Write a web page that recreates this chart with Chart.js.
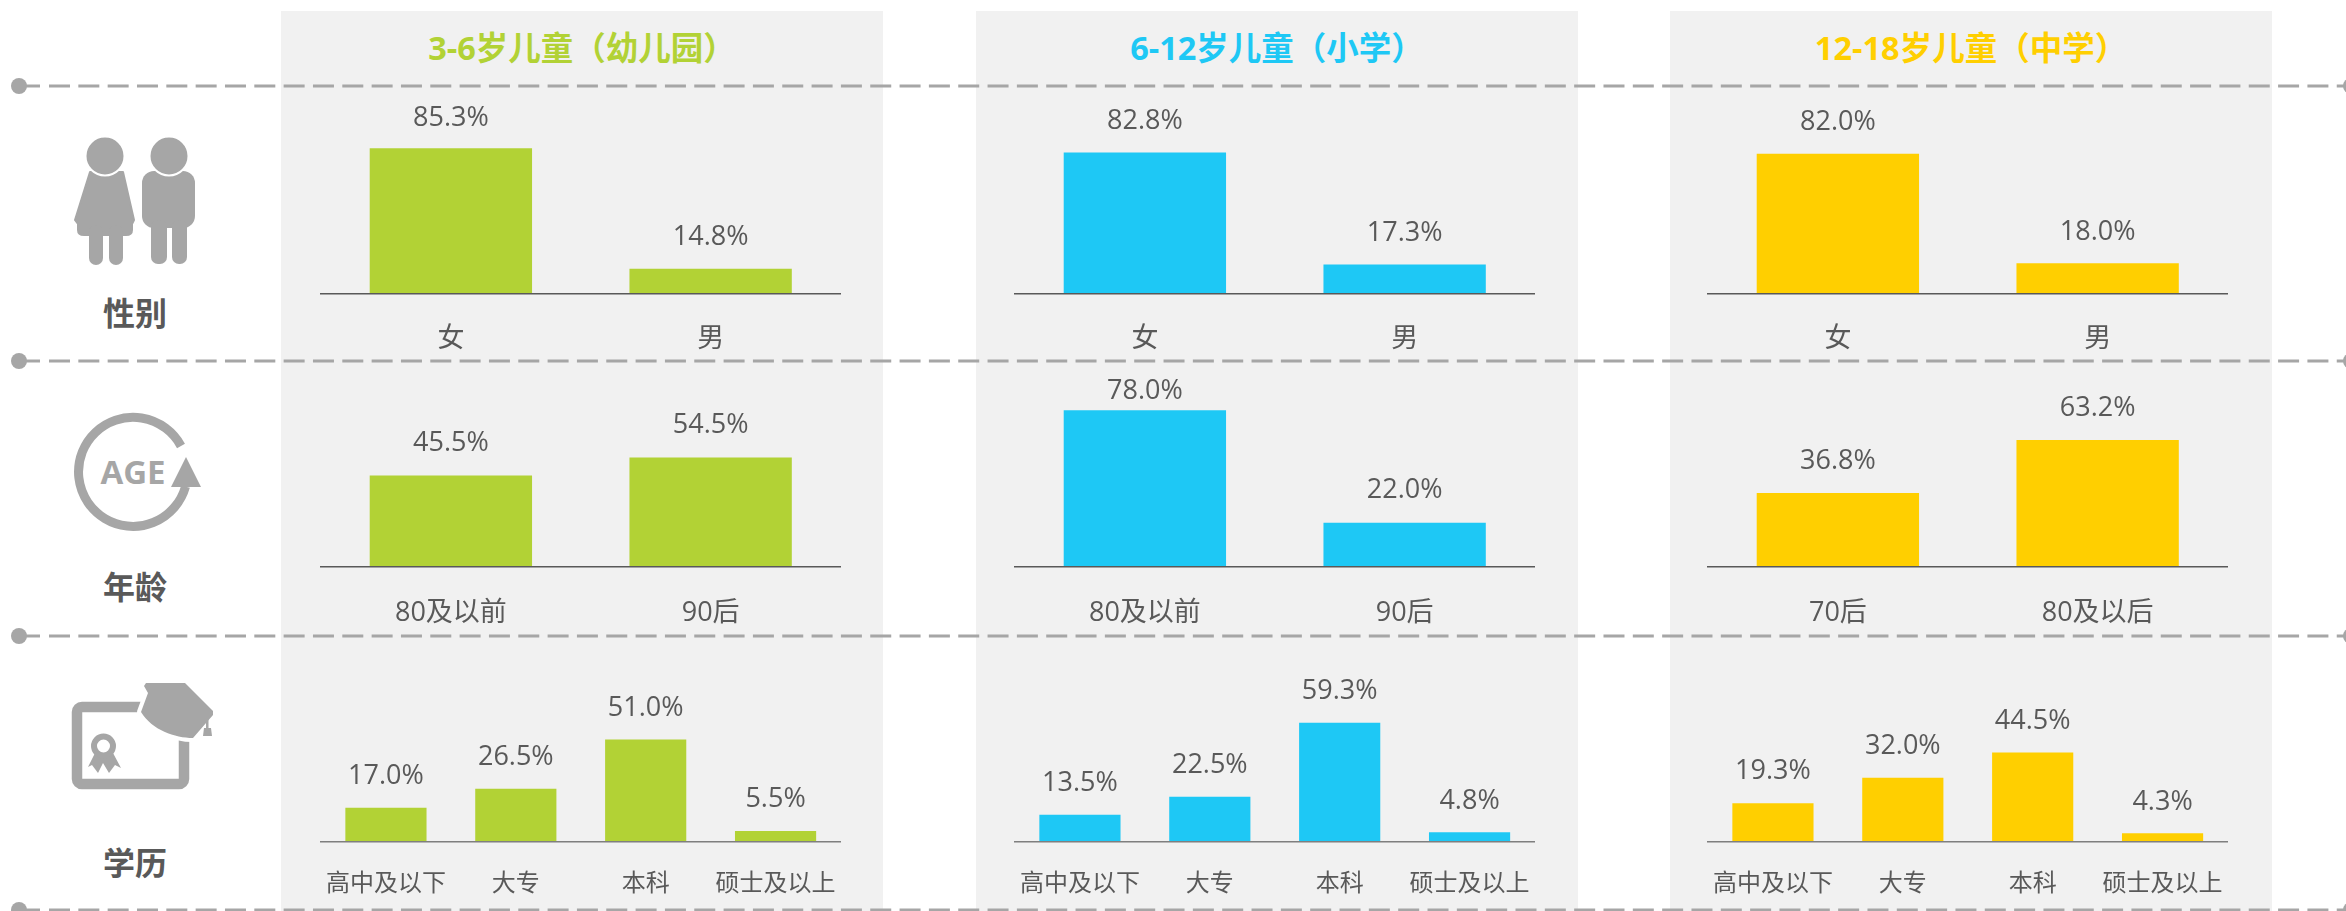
<!DOCTYPE html>
<html>
<head>
<meta charset="utf-8">
<title>儿童家长画像</title>
<script src="https://cdn.jsdelivr.net/npm/chart.js@4"></script>
<style>
  html, body { margin: 0; padding: 0; background: #fff; }
  #page { position: relative; width: 2346px; height: 911px; overflow: hidden; font-family: "Open Sans", "Noto Sans CJK SC", sans-serif; }
  .panel { position: absolute; top: 11px; width: 602px; height: 900px; background: #f1f1f1; }
  .coltitle { position: absolute; top: 26px; width: 602px; text-align: center; font-size: 32.5px; line-height: 44px; font-weight: 700; }
  .rowname { position: absolute; left: 85px; width: 100px; text-align: center; font-size: 32px; line-height: 40px; font-weight: 700; color: #595959; }
  #art { position: absolute; left: 0; top: 0; }
  canvas { position: absolute; }
</style>
</head>
<body>
<div id="page">
  <div class="panel" style="left:281px"></div>
  <div class="panel" style="left:976px"></div>
  <div class="panel" style="left:1670px"></div>

  <svg id="art" width="2346" height="911" fill="#a6a6a6">
    <!-- dashed row separators -->
    <g id="rules"></g>

    <!-- gender icon -->
    <path d="M90 172H123L134 220L132 224V230Q132 235 126 235H84Q78 235 78 230V224L75 220Z" stroke="#a6a6a6" stroke-width="2" stroke-linejoin="round"/>
    <rect x="89" y="225" width="14" height="40" rx="7"/>
    <rect x="109" y="225" width="14" height="40" rx="7"/>
    <rect x="142" y="171" width="53" height="57" rx="12"/>
    <rect x="151" y="220" width="16" height="44" rx="7"/>
    <rect x="172" y="220" width="15" height="44" rx="7"/>
    <circle cx="105" cy="156" r="19.5" stroke="#fff" stroke-width="2"/>
    <circle cx="169" cy="156" r="19.5" stroke="#fff" stroke-width="2"/>

    <!-- age icon -->
    <path d="M181 446A54.500 54.500 0 1 0 185.500 486.600" fill="none" stroke="#a6a6a6" stroke-width="9"/>
    <path d="M186 457L201 487H171Z"/>
    <text x="133" y="484" text-anchor="middle" font-size="33" font-weight="700" font-family="Open Sans">AGE</text>

    <!-- education icon -->
    <rect x="77" y="707" width="107" height="77" rx="5" fill="none" stroke="#a6a6a6" stroke-width="10.5"/>
    <path d="M146 683H185L213 711V715L193 738C175 738 152 730 141 712L148 693L144 686Z" stroke="#fff" stroke-width="8" stroke-linejoin="round" paint-order="stroke"/>
    <path d="M206 716H208.500V728H211L212 736H203L204 728H206Z"/>
    <path d="M95 753L88 767L92 765L98 773L103 763L109 773L115 765L121 768L113 753Z"/>
    <circle cx="103.500" cy="746" r="9.500" fill="#fff" stroke="#a6a6a6" stroke-width="6"/>
  </svg>

  <div class="coltitle" style="left:281px;color:#b2d235">3-6岁儿童（幼儿园）</div>
  <div class="coltitle" style="left:976px;color:#1ec8f5">6-12岁儿童（小学）</div>
  <div class="coltitle" style="left:1670px;color:#ffcf00">12-18岁儿童（中学）</div>

  <div class="rowname" style="top:293px">性别</div>
  <div class="rowname" style="top:567px">年龄</div>
  <div class="rowname" style="top:843px">学历</div>
</div>

<script>
// categories
const genderLabels = ['女', '男'];
const ageLabelsKinder = ['80及以前', '90后'];
const ageLabelsPrimary = ['80及以前', '90后'];
const ageLabelsMiddle = ['70后', '80及以后'];
const eduLabels = ['高中及以下', '大专', '本科', '硕士及以上'];

// values, in percent, one list per panel
const genderKinder = [85.3, 14.8];
const genderPrimary = [82.8, 17.3];
const genderMiddle = [82.0, 18.0];
const ageKinder = [45.5, 54.5];
const agePrimary = [78.0, 22.0];
const ageMiddle = [36.8, 63.2];
const eduKinder = [17.0, 26.5, 51.0, 5.5];
const eduPrimary = [13.5, 22.5, 59.3, 4.8];
const eduMiddle = [19.3, 32.0, 44.5, 4.3];

const GREEN = '#b2d235';
const BLUE = '#1ec8f5';
const YELLOW = '#ffcf00';
const TEXT = '#595959';
const FONT = '"Open Sans", "Noto Sans CJK SC", sans-serif';

const page = document.getElementById('page');

// Value labels sit a fixed distance above each bar, but stay below the row's top limit
const valueLabels = {
    id: 'valueLabels',
    afterDatasetsDraw(chart, args, opts) {
        const { ctx, data } = chart;
        ctx.save();
        ctx.textAlign = 'center';
        ctx.textBaseline = 'middle';
        ctx.font = '27px ' + FONT;
        ctx.fillStyle = TEXT;
        chart.getDatasetMeta(0).data.forEach((bar, i) => {
            const y = Math.max(bar.y - opts.gap, opts.minY);
            ctx.fillText(data.datasets[0].data[i].toFixed(1) + '%', bar.x, y);
        });
        ctx.restore();
    }
};

function makeChart(canvasLeft, row, labels, values, color) {
    const canvas = document.createElement('canvas');
    canvas.width = 602;
    canvas.height = row.bottom - row.top;
    canvas.style.left = canvasLeft + 'px';
    canvas.style.top = row.top + 'px';
    page.appendChild(canvas);

    const areaHeight = row.base - row.top;

    return new Chart(canvas, {
        type: 'bar',
        data: {
            labels,
            datasets: [{
                data: values,
                backgroundColor: color,
                categoryPercentage: 0.625,
                barPercentage: 1,
            }],
        },
        plugins: [valueLabels],
        options: {
            animation: false,
            responsive: false,
            layout: { padding: { left: 39, right: 43.5, top: 0, bottom: 0 } },
            plugins: {
                legend: { display: false },
                tooltip: { enabled: false },
                valueLabels: { gap: row.labelGap, minY: row.labelMinY },
            },
            scales: {
                x: {
                    afterFit(scale) { scale.height = row.bottom - row.base; },
                    grid: { display: false, drawTicks: false },
                    border: { display: true, color: row.axisColor, width: 1.5, z: 1 },
                    ticks: {
                        color: TEXT,
                        font: { family: FONT, size: row.tickSize },
                        padding: row.tickPad,
                        autoSkip: false,
                        maxRotation: 0,
                        minRotation: 0,
                    },
                },
                y: {
                    display: false,
                    min: 0,
                    max: areaHeight / row.pxPerUnit,
                },
            },
        },
    });
}

// Rows have their own scale, the first one is a bit flatter
const rowGender = { top: 88, base: 294, bottom: 360, pxPerUnit: 1.71, tickSize: 27, tickPad: 29, axisColor: '#595959', labelGap: 31, labelMinY: 30 };
const rowAge = { top: 363, base: 567, bottom: 635, pxPerUnit: 2.01, tickSize: 27, tickPad: 30, axisColor: '#595959', labelGap: 32, labelMinY: 28 };
const rowEdu = { top: 638, base: 842, bottom: 909, pxPerUnit: 2.01, tickSize: 24, tickPad: 28, axisColor: '#7f7f7f', labelGap: 31.5, labelMinY: 0 };

const leftKinder = 282;
const leftPrimary = 975.5;
const leftMiddle = 1669;

makeChart(leftKinder, rowGender, genderLabels, genderKinder, GREEN);
makeChart(leftPrimary, rowGender, genderLabels, genderPrimary, BLUE);
makeChart(leftMiddle, rowGender, genderLabels, genderMiddle, YELLOW);
makeChart(leftKinder, rowAge, ageLabelsKinder, ageKinder, GREEN);
makeChart(leftPrimary, rowAge, ageLabelsPrimary, agePrimary, BLUE);
makeChart(leftMiddle, rowAge, ageLabelsMiddle, ageMiddle, YELLOW);
makeChart(leftKinder, rowEdu, eduLabels, eduKinder, GREEN);
makeChart(leftPrimary, rowEdu, eduLabels, eduPrimary, BLUE);
makeChart(leftMiddle, rowEdu, eduLabels, eduMiddle, YELLOW);

// Separators: dot on each end, short stub, then dashes
const rules = document.getElementById('rules');
[86, 361, 636, 910].forEach(y => {
    rules.insertAdjacentHTML('beforeend',
        `<circle cx="19" cy="${y}" r="8"/><circle cx="2351" cy="${y}" r="8"/>` +
        `<line x1="19" x2="40" y1="${y}" y2="${y}" stroke="#a6a6a6" stroke-width="3"/>` +
        `<line x1="49" x2="2346" y1="${y}" y2="${y}" stroke="#a6a6a6" stroke-width="3" stroke-dasharray="21 8.33"/>`);
});
</script>
</body>
</html>
